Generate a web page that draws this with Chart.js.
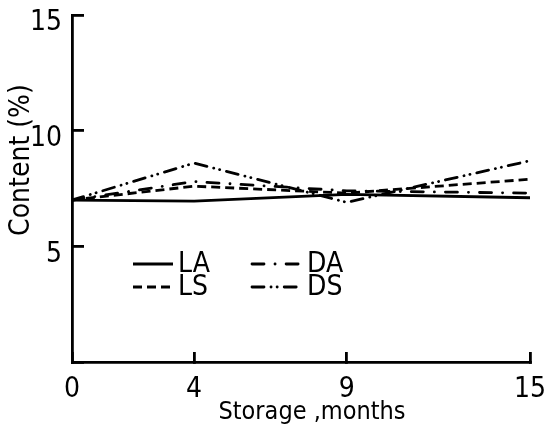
<!DOCTYPE html>
<html>
<head>
<meta charset="utf-8">
<script src="https://cdn.jsdelivr.net/npm/chart.js@4/dist/chart.umd.min.js"></script>
<style>
  html, body { margin: 0; padding: 0; background: #fff; }
  #wrap { width: 544px; height: 441px; }
</style>
</head>
<body>
<div id="wrap"><canvas id="grafico" width="544" height="441"></canvas></div>
<script>
// ========= Data =========
const meses = [0, 4, 9, 15];
const serieLA = [7.0, 6.95, 7.25, 7.1];
const serieLS = [7.0, 7.6, 7.3, 7.9];
const serieDA = [7.0, 7.8, 7.4, 7.3];
const serieDS = [7.0, 8.6, 6.9, 8.7];
const xTicks = [0, 4, 9, 15];
const yTicks = [0, 5, 10, 15];

// ========= Style =========
const FONTE = '"DejaVu Sans Condensed", "DejaVu Sans", sans-serif';
const PRETO = "#000";
const ESPESSURA = 2.8;

// points {x, y} from month + value arrays
const pontos = (vals) => vals.map((v, i) => ({ x: meses[i], y: v }));

function serie(label, vals, dash, cap) {
  return {
    label,
    data: pontos(vals),
    borderColor: PRETO,
    borderWidth: ESPESSURA,
    borderDash: dash,
    borderCapStyle: cap,
    pointRadius: 0,
    tension: 0,
    fill: false,
  };
}

// ========= Plugin: legend inside the plot + axis titles =========
const extras = {
  id: "extras",
  afterDraw(chart) {
    const ctx = chart.ctx;
    const ds = chart.data.datasets;
    const col = [133, 252];
    const linha = [264, 287];
    const larg = [40, 50];
    ctx.save();
    ctx.fillStyle = PRETO;
    ctx.strokeStyle = PRETO;
    ctx.font = "28px " + FONTE;
    ctx.textBaseline = "middle";
    ds.forEach((d, i) => {
      const c = i < 2 ? 0 : 1;
      const r = i % 2;
      const x0 = col[c];
      const y0 = linha[r];
      ctx.lineWidth = ESPESSURA;
      ctx.lineCap = d.borderCapStyle || "butt";
      ctx.setLineDash(d.borderDash || []);
      ctx.beginPath();
      ctx.moveTo(x0, y0);
      ctx.lineTo(x0 + larg[c], y0);
      ctx.stroke();
      ctx.setLineDash([]);
      ctx.textAlign = "left";
      ctx.fillText(d.label, x0 + larg[c] + 5, y0 + 1);
    });

    // axis titles
    ctx.font = "25px " + FONTE;
    ctx.textAlign = "center";
    ctx.fillText("Storage ,months", 312, 412);
    ctx.font = "28px " + FONTE;
    ctx.translate(22, 160);
    ctx.rotate(-Math.PI / 2);
    ctx.fillText("Content (%)", 0, 0);
    ctx.restore();
  },
};

// ========= Chart =========
new Chart(document.getElementById("grafico"), {
  type: "line",
  data: {
    datasets: [
      serie("LA", serieLA, [], "butt"),
      serie("LS", serieLS, [9, 5], "butt"),
      serie("DA", serieDA, [12, 11, 0.1, 11], "round"),
      serie("DS", serieDS, [12, 7, 0.1, 6, 0.1, 7], "round"),
    ],
  },
  options: {
    responsive: false,
    animation: false,
    layout: { padding: { left: 0, top: 15, right: 14, bottom: 0 } },
    plugins: {
      legend: { display: false },
      tooltip: { enabled: false },
    },
    scales: {
      x: {
        type: "linear",
        min: 0,
        max: 15,
        afterBuildTicks: (s) => { s.ticks = xTicks.map((v) => ({ value: v })); },
        afterFit: (s) => {
          s.height = 79;
          s.paddingLeft = 0;
          s.paddingRight = 0;
        },
        border: { display: true, color: PRETO, width: ESPESSURA },
        grid: { drawOnChartArea: false, drawTicks: true, tickLength: -10, color: PRETO, lineWidth: ESPESSURA },
        ticks: { color: PRETO, font: { family: FONTE, size: 28 }, padding: 21, maxRotation: 0 },
      },
      y: {
        min: 0,
        max: 15,
        afterBuildTicks: (s) => { s.ticks = yTicks.map((v) => ({ value: v })); },
        afterFit: (s) => {
          s.width = 72;
          s.paddingTop = 0;
          s.paddingBottom = 0;
        },
        border: { display: true, color: PRETO, width: ESPESSURA },
        grid: { drawOnChartArea: false, drawTicks: true, tickLength: -12, color: PRETO, lineWidth: ESPESSURA },
        ticks: {
          color: PRETO,
          font: { family: FONTE, size: 28 },
          padding: 22,
          labelOffset: 8,
          callback: (v) => (v === 0 ? "" : String(v)),
        },
      },
    },
  },
  plugins: [extras],
});
</script>
</body>
</html>
